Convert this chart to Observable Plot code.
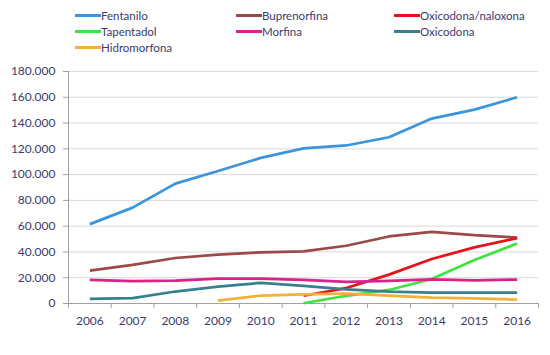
<!DOCTYPE html>
<html><head><meta charset="utf-8">
<script src="https://cdn.jsdelivr.net/npm/d3@7"></script>
<script src="https://cdn.jsdelivr.net/npm/@observablehq/plot@0.6"></script>
<style>
body{margin:0;background:#fff;font-family:Lato,"Open Sans",sans-serif;}
#legend{position:relative;height:56px;width:550px;}
.item{position:absolute;display:flex;align-items:center;height:16px;font-size:11.5px;color:#3b3b6e;white-space:nowrap;}
.sw{width:26px;height:3px;margin-right:0px;}
</style></head><body>
<div id="legend"></div><div id="chart"></div>
<script>
const years = [2006, 2007, 2008, 2009, 2010, 2011, 2012, 2013, 2014, 2015, 2016];
const seriesNames = ["Fentanilo", "Buprenorfina", "Oxicodona/naloxona", "Tapentadol", "Morfina", "Oxicodona", "Hidromorfona"];
const seriesColors = ["#3b95dc", "#9c4a47", "#e3141b", "#3fe33f", "#d9228a", "#37808e", "#f3b13b"];
const fentanilo     = [61600, 74400, 93000, 102800, 113000, 120300, 122600, 129000, 143500, 150400, 160000];
const buprenorfina  = [25500, 29900, 35300, 37900, 39700, 40400, 44800, 52000, 55600, 53000, 51200];
const oxiNaloxona   = [null, null, null, null, null, 6000, 12000, 22400, 34500, 43500, 50700];
const tapentadol    = [null, null, null, null, null, 200, 6000, 10500, 19000, 33700, 46600];
const morfina       = [18300, 17300, 17800, 19300, 19300, 18300, 16800, 17500, 18800, 18000, 18600];
const oxicodona     = [3600, 4100, 9300, 13100, 16000, 13700, 11000, 9300, 8500, 8500, 8500];
const hidromorfona  = [null, null, null, 2300, 6200, 7000, 7700, 6200, 4600, 3900, 3100];
const yTicks = [0, 20000, 40000, 60000, 80000, 100000, 120000, 140000, 160000, 180000];

const seriesValues = [fentanilo, buprenorfina, oxiNaloxona, tapentadol, morfina, oxicodona, hidromorfona];
const rows = [];
seriesNames.forEach((name, i) => {
  years.forEach((yr, j) => {
    const v = seriesValues[i][j];
    if (v != null) rows.push({series: name, year: yr, value: v});
  });
});
const bounds = years.map(y => y - 0.5).concat([years[years.length - 1] + 0.5]);

// legend (3 columns, row-major order)
const legend = document.getElementById("legend");
const colX = [75, 236, 394];
const rowY = [15.5, 31.5, 47.5];
seriesNames.forEach((name, i) => {
  const div = document.createElement("div");
  div.className = "item";
  div.style.left = colX[i % 3] + "px";
  div.style.top = (rowY[Math.floor(i / 3)] - 8) + "px";
  const sw = document.createElement("span");
  sw.className = "sw";
  sw.style.background = seriesColors[i];
  div.appendChild(sw);
  const t = document.createElement("span");
  t.textContent = name;
  div.appendChild(t);
  legend.appendChild(div);
});

const loc = d3.formatLocale({decimal: ",", thousands: ".", grouping: [3], currency: ["", "€"]});
const fmt = loc.format(",");
const textColor = "#3b3b6e";
const axisColor = "#a0a0a0";

const chart = Plot.plot({
  width: 550,
  height: 299,
  marginTop: 15,
  marginBottom: 52,
  marginLeft: 68,
  marginRight: 12,
  style: {fontFamily: "Lato, 'Open Sans', sans-serif", fontSize: "12px", color: textColor, background: "#fff"},
  x: {domain: [years[0] - 0.5, years[years.length - 1] + 0.5]},
  y: {domain: [0, 180000]},
  color: {domain: seriesNames, range: seriesColors},
  marks: [
    Plot.gridY(yTicks, {stroke: "#d9d9d9", strokeOpacity: 1}),
    Plot.ruleX([years[0] - 0.5], {stroke: axisColor}),
    Plot.ruleY([0], {stroke: axisColor}),
    Plot.axisY(yTicks, {tickSize: 5, tickPadding: 8, tickFormat: fmt, stroke: axisColor, fill: textColor, label: null}),
    Plot.axisX(bounds, {tickSize: 5, tickFormat: () => "", stroke: axisColor, label: null}),
    Plot.axisX(years, {tickSize: 0, tickPadding: 13, tickFormat: d => String(d), fill: textColor, label: null}),
    Plot.line(rows, {x: "year", y: "value", z: "series", stroke: "series", strokeWidth: 2.75, strokeLinejoin: "round", strokeLinecap: "butt"})
  ]
});
document.getElementById("chart").appendChild(chart);
</script>
</body></html>
